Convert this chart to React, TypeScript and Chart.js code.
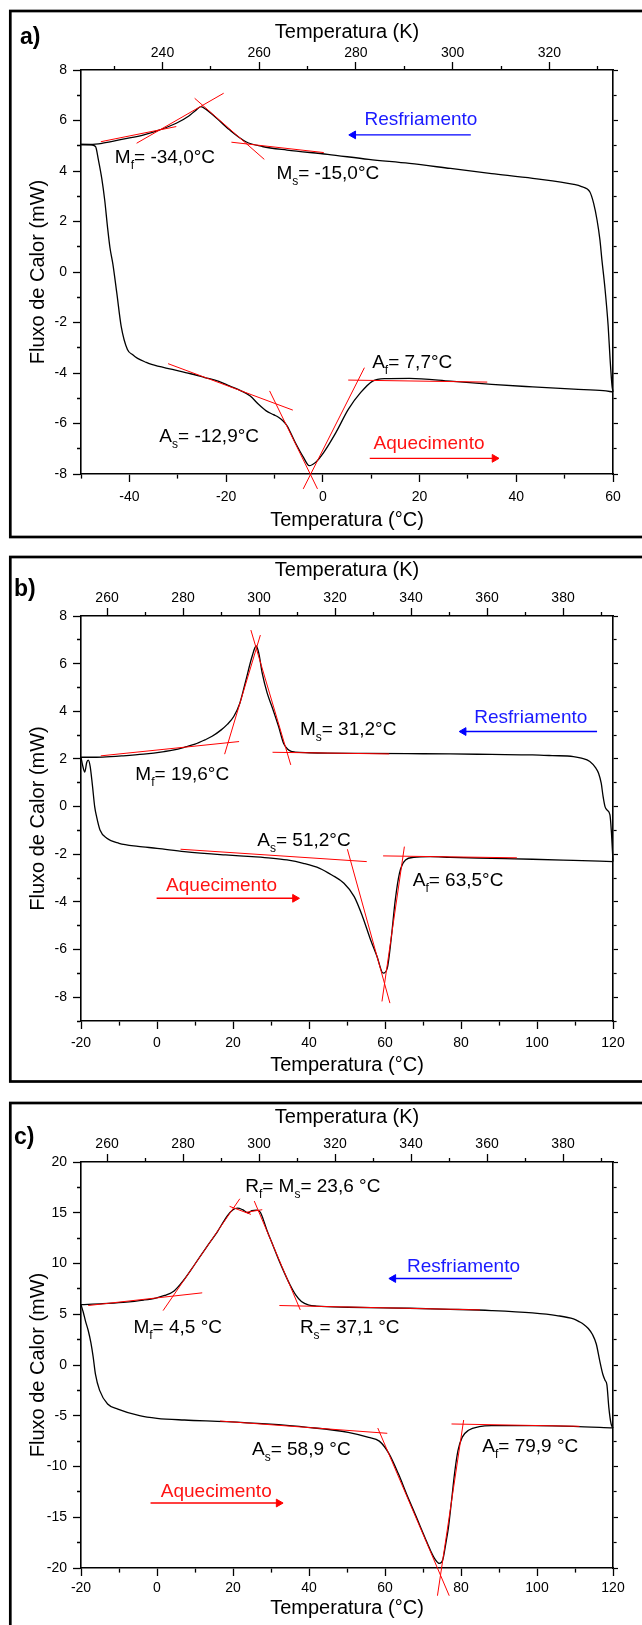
import React, { useEffect, useRef } from "react";
import { Chart, registerables } from "chart.js";

Chart.register(...registerables);

const FONT = "'Liberation Sans', Arial, Helvetica, sans-serif";
const K0 = 273.15;
const BLACK = "#000000";
const RED = "#ff0000";
const BLUE = "#0000ff";
const TEXT_COLORS: Record<string, string> = { k: "#000000", r: "#ff1414", b: "#1a1aff" };

// ================= a) =================
const aCoolT = [60, 59.8, 59.4, 59.0, 58.3, 57.7, 57.3, 56.7, 56.0, 55.2, 53.5, 51.9, 43.4, 34.9, 26.4, 17.9, 9.5, 1.0, -7.4, -12.5, -15.9, -19.3, -22.7, -24.2, -25.2, -26.3, -27.7, -30.3, -33.7, -37.0, -41.3, -45.5, -48.0, -50];
const aCoolQ = [-4.75, -4.51, -3.46, -2.14, -0.57, 0.49, 1.27, 2.06, 2.72, 3.18, 3.38, 3.47, 3.71, 3.9, 4.1, 4.3, 4.46, 4.66, 4.83, 4.97, 5.16, 5.63, 6.22, 6.45, 6.55, 6.4, 6.18, 5.89, 5.63, 5.43, 5.26, 5.1, 5.05, 5.05];
const aHeatT = [-50, -48.0, -47.0, -46.4, -45.7, -45.1, -44.5, -44.0, -43.4, -42.6, -41.7, -40.4, -39.3, -38.3, -36.5, -35.4, -31.1, -27.5, -24.4, -21.5, -19.3, -17.0, -15.0, -13.3, -11.7, -10.2, -9.1, -8.2, -7.4, -5.7, -4.0, -2.8, -1.5, 0.2, 2.7, 5.3, 7.8, 10.3, 12.9, 17.9, 26.4, 34.9, 43.4, 51.9, 58.0, 60];
const aHeatQ = [5.05, 5.04, 4.97, 4.44, 3.7, 2.85, 1.75, 0.95, 0.3, -0.83, -2.14, -3.07, -3.28, -3.42, -3.58, -3.66, -3.86, -4.02, -4.18, -4.33, -4.51, -4.7, -4.91, -5.24, -5.5, -5.65, -5.76, -5.9, -6.09, -6.75, -7.34, -7.67, -7.54, -7.14, -6.36, -5.43, -4.78, -4.32, -4.22, -4.21, -4.32, -4.45, -4.55, -4.64, -4.7, -4.75];
const aTanT = [[-45.9, -30.3], [-38.5, -20.5], [-26.5, -12.1], [-18.9, 0.2], [-32.0, -6.2], [-11.0, -1.1], [-4.05, 8.6], [5.25, 34.0]];
const aTanQ = [[5.16, 5.76], [5.1, 7.08], [6.88, 4.46], [5.14, 4.73], [-3.63, -5.47], [-4.71, -8.59], [-8.59, -3.79], [-4.28, -4.36]];
const aArrowT = [[30.6, 6.3], [9.7, 35.5]];
const aArrowQ = [[5.43, 5.43], [-7.38, -7.38]];
const aArrowColor = ["b", "r"];
const aLabelText = ["M_f= -34,0°C", "M_s= -15,0°C", "Resfriamento", "A_f= 7,7°C", "A_s= -12,9°C", "Aquecimento"];
const aLabelT = [-43.0, -9.6, 8.6, 10.2, -33.8, 10.5];
const aLabelQ = [4.54, 3.88, 6.02, -3.59, -6.53, -6.79];
const aLabelColor = ["k", "k", "b", "k", "k", "r"];
const aXTicks = [-50, -40, -30, -20, -10, 0, 10, 20, 30, 40, 50, 60];
const aKTicks = [230, 240, 250, 260, 270, 280, 290, 300, 310, 320, 330];
const aYTicks = [-8, -7, -6, -5, -4, -3, -2, -1, 0, 1, 2, 3, 4, 5, 6, 7, 8];

// ================= b) =================
const bCoolT = [120, 119.6, 119.2, 118.4, 117.9, 117.4, 116.9, 116.2, 115.5, 113.9, 111.7, 109.6, 104, 98.8, 88, 77.2, 66, 55, 45, 40, 36.3, 35.3, 34.4, 33.3, 32.0, 30.4, 29.0, 27.7, 26.8, 26.1, 25.0, 23.4, 21.8, 20.2, 18.5, 16.9, 14.5, 12.6, 10, 7.2, 4.5, 1.9, -3.5, -8.9, -14.3, -20];
const bCoolQ = [-2.31, -1.12, -0.35, -0.14, 0.0, 0.42, 0.98, 1.4, 1.61, 1.89, 2.03, 2.1, 2.14, 2.17, 2.19, 2.21, 2.22, 2.23, 2.24, 2.26, 2.29, 2.32, 2.41, 2.66, 3.36, 4.13, 4.76, 5.59, 6.43, 6.74, 6.29, 5.31, 4.34, 3.78, 3.45, 3.22, 2.95, 2.8, 2.62, 2.49, 2.38, 2.31, 2.2, 2.13, 2.08, 2.07];
const bHeatT = [-20, -19.6, -19.0, -18.5, -18.1, -17.6, -17.0, -16.4, -15.9, -15.0, -13.2, -10, -5, 0, 7.2, 18, 25, 30, 34.2, 38.5, 42.8, 46.0, 49.2, 51.9, 54.1, 56.2, 57.9, 59.5, 60.6, 61.6, 62.7, 63.8, 65.4, 67.6, 71.9, 77.2, 88, 98.8, 109.6, 120];
const bHeatQ = [2.07, 1.75, 1.45, 1.85, 1.95, 1.7, 0.9, 0.0, -0.42, -0.98, -1.33, -1.54, -1.67, -1.75, -1.89, -2.03, -2.1, -2.16, -2.24, -2.38, -2.59, -2.87, -3.22, -3.78, -4.62, -5.59, -6.29, -6.99, -6.78, -5.59, -3.92, -2.8, -2.24, -2.13, -2.1, -2.13, -2.17, -2.21, -2.26, -2.31];
const bTanT = [[-14.8, 21.6], [17.8, 27.2], [24.7, 35.2], [30.4, 61.1], [6.2, 55.2], [50.1, 61.3], [59.2, 65.1], [59.5, 94.7]];
const bTanQ = [[2.13, 2.73], [2.2, 7.2], [7.41, 1.75], [2.28, 2.21], [-1.79, -2.31], [-1.79, -8.25], [-8.18, -1.68], [-2.07, -2.15]];
const bArrowT = [[115.8, 80.7], [-0.1, 36.3]];
const bArrowQ = [[3.15, 3.15], [-3.85, -3.85]];
const bArrowColor = ["b", "r"];
const bLabelText = ["M_s= 31,2°C", "M_f= 19,6°C", "Resfriamento", "A_s= 51,2°C", "A_f= 63,5°C", "Aquecimento"];
const bLabelT = [37.6, -5.7, 83.5, 26.4, 67.3, 2.4];
const bLabelQ = [3.22, 1.33, 3.71, -1.43, -3.12, -3.31];
const bLabelColor = ["k", "k", "b", "k", "k", "r"];
const bXTicks = [-20, -10, 0, 10, 20, 30, 40, 50, 60, 70, 80, 90, 100, 110, 120];
const bKTicks = [260, 270, 280, 290, 300, 310, 320, 330, 340, 350, 360, 370, 380, 390];
const bYTicks = [-9, -8, -7, -6, -5, -4, -3, -2, -1, 0, 1, 2, 3, 4, 5, 6, 7, 8];

// ================= c) =================
const cCoolT = [120, 119.5, 118.9, 118.4, 117.9, 117.3, 116.5, 115.6, 114.6, 113.5, 112.3, 111.2, 109.6, 105.2, 98.8, 88, 77.2, 66.5, 50.3, 42, 40, 38, 36.5, 35, 33.5, 32, 30.5, 29, 28, 27.2, 26.2, 25, 23.9, 22.5, 21.2, 20.0, 18.5, 16, 13, 10, 7, 4.5, 2.0, -0.3, -3.5, -8.9, -14.3, -20];
const cCoolQ = [-6.2, -5.81, -4.17, -1.95, -1.5, -0.89, 0.43, 2.07, 3.0, 3.6, 4.0, 4.25, 4.54, 4.87, 5.13, 5.36, 5.49, 5.59, 5.69, 5.8, 5.9, 6.25, 6.9, 7.9, 9.1, 10.4, 11.8, 13.2, 14.3, 15.05, 15.25, 15.2, 15.0, 15.3, 15.45, 15.3, 14.7, 13.2, 11.6, 9.95, 8.35, 7.3, 6.85, 6.6, 6.4, 6.18, 6.04, 5.95];
const cHeatT = [-20, -19.4, -18.8, -18.1, -17.4, -16.8, -16.2, -15.1, -13.0, -10.3, -4.6, 0, 7.2, 18, 28.8, 39.6, 50.3, 55.7, 58.5, 61, 63.5, 66, 68.5, 70.5, 72, 73.2, 74.3, 75.2, 76.0, 76.7, 77.5, 78.3, 79.2, 80.3, 82.1, 84.8, 88, 98.8, 109.6, 120];
const cHeatQ = [5.95, 5.2, 4.3, 3.4, 2.2, 0.8, -0.9, -2.5, -3.84, -4.34, -4.99, -5.25, -5.42, -5.58, -5.81, -6.14, -6.63, -7.13, -7.5, -8.7, -10.7, -13.0, -15.2, -17.0, -18.3, -19.15, -19.55, -19.2, -17.6, -16.0, -13.4, -10.7, -8.44, -7.13, -6.4, -6.08, -5.98, -5.98, -6.04, -6.2];
const cTanT = [[-18.1, 11.9], [1.6, 21.8], [19.1, 24.7], [23.2, 27.7], [25.6, 37.7], [32.2, 85.0], [16.6, 60.6], [58.1, 76.9], [73.8, 80.7], [77.5, 111.2]];
const cTanQ = [[5.86, 7.11], [5.36, 16.38], [15.63, 14.84], [15.03, 15.3], [16.15, 5.43], [5.86, 5.43], [-5.52, -6.73], [-6.21, -22.73], [-22.73, -5.42], [-5.81, -6.04]];
const cArrowT = [[93.4, 62.2], [-1.7, 32.0]];
const cArrowQ = [[8.52, 8.52], [-13.6, -13.6]];
const cArrowColor = ["b", "r"];
const cLabelText = ["R_f= M_s= 23,6 °C", "M_f= 4,5 °C", "R_s= 37,1 °C", "Resfriamento", "A_s= 58,9 °C", "A_f= 79,9 °C", "Aquecimento"];
const cLabelT = [23.2, -6.2, 37.6, 65.8, 25.0, 85.6, 1.0];
const cLabelQ = [17.53, 3.65, 3.65, 9.7, -8.37, -8.01, -12.45];
const cLabelColor = ["k", "k", "k", "b", "k", "k", "r"];
const cXTicks = [-20, -10, 0, 10, 20, 30, 40, 50, 60, 70, 80, 90, 100, 110, 120];
const cKTicks = [260, 270, 280, 290, 300, 310, 320, 330, 340, 350, 360, 370, 380, 390];
const cYTicks = [-20, -17.5, -15, -12.5, -10, -7.5, -5, -2.5, 0, 2.5, 5, 7.5, 10, 12.5, 15, 17.5, 20];

const LINE_COLORS: Record<string, string> = { b: BLUE, r: RED };

type PanelDef = {
  letter: string; letterX: number; letterY: number;
  top: number; height: number; plotTop: number; plotBottom: number;
  frameTop: number; frameBottom: number;
  xMin: number; xMax: number; xTicks: number[]; xLabelStep: number;
  kTicks: number[];
  yMin: number; yMax: number; yTicks: number[]; yLabelStep: number;
  curves: number[][][];
  tanT: number[][]; tanQ: number[][];
  arrowT: number[][]; arrowQ: number[][]; arrowColor: string[];
  labelText: string[]; labelT: number[]; labelQ: number[]; labelColor: string[];
  kTitlePad: number; kTickPad: number; cTickPad: number; cTitlePad: number;
};

const PLOT_LEFT = 81;
const PLOT_RIGHT = 613;
const W = 642;

const PANELS: PanelDef[] = [
  {
    letter: "a", letterX: 20, letterY: 38, top: 0, height: 548, plotTop: 70, plotBottom: 474, frameTop: 11, frameBottom: 537,
    xMin: -50, xMax: 60, xTicks: aXTicks, xLabelStep: 20, kTicks: aKTicks,
    yMin: -8, yMax: 8, yTicks: aYTicks, yLabelStep: 2,
    curves: [[aCoolT, aCoolQ], [aHeatT, aHeatQ]], tanT: aTanT, tanQ: aTanQ,
    arrowT: aArrowT, arrowQ: aArrowQ, arrowColor: aArrowColor,
    labelText: aLabelText, labelT: aLabelT, labelQ: aLabelQ, labelColor: aLabelColor,
    kTitlePad: 20, kTickPad: 0, cTickPad: 6.6, cTitlePad: 16,
  },
  {
    letter: "b", letterX: 14, letterY: 42, top: 548, height: 545, plotTop: 68, plotBottom: 473, frameTop: 9, frameBottom: 533.5,
    xMin: -20, xMax: 120, xTicks: bXTicks, xLabelStep: 20, kTicks: bKTicks,
    yMin: -9, yMax: 8, yTicks: bYTicks, yLabelStep: 2,
    curves: [[bCoolT, bCoolQ], [bHeatT, bHeatQ]], tanT: bTanT, tanQ: bTanQ,
    arrowT: bArrowT, arrowQ: bArrowQ, arrowColor: bArrowColor,
    labelText: bLabelText, labelT: bLabelT, labelQ: bLabelQ, labelColor: bLabelColor,
    kTitlePad: 10, kTickPad: 1.6, cTickPad: 5.6, cTitlePad: 16,
  },
  {
    letter: "c", letterX: 14, letterY: 45, top: 1093, height: 532, plotTop: 69, plotBottom: 475, frameTop: 10, frameBottom: 700,
    xMin: -20, xMax: 120, xTicks: cXTicks, xLabelStep: 20, kTicks: cKTicks,
    yMin: -20, yMax: 20, yTicks: cYTicks, yLabelStep: 5,
    curves: [[cCoolT, cCoolQ], [cHeatT, cHeatQ]], tanT: cTanT, tanQ: cTanQ,
    arrowT: cArrowT, arrowQ: cArrowQ, arrowColor: cArrowColor,
    labelText: cLabelText, labelT: cLabelT, labelQ: cLabelQ, labelColor: cLabelColor,
    kTitlePad: 12, kTickPad: 1.6, cTickPad: 3.6, cTitlePad: 5,
  },
];

const isMult = (v: number, s: number) => Math.abs(v / s - Math.round(v / s)) < 1e-6;

// minor ticks are drawn shorter using a dash pattern on the tick mark
function tickDash(labelStep: number, outerFirst: boolean, minorLen: number, tl: number) {
  return (ctx: any) => {
    const v = ctx && ctx.tick ? ctx.tick.value : 0;
    if (isMult(v, labelStep)) return [];
    return outerFirst ? [0, tl - minorLen, 40, 0] : [minorLen, 40];
  };
}

function drawRich(ctx: CanvasRenderingContext2D, text: string, x: number, y: number, color: string) {
  const parts: [string, boolean][] = [];
  let buf = "";
  for (let i = 0; i < text.length; i++) {
    if (text[i] === "_") {
      if (buf) parts.push([buf, false]);
      buf = "";
      parts.push([text[i + 1], true]);
      i++;
    } else buf += text[i];
  }
  if (buf) parts.push([buf, false]);
  ctx.fillStyle = color;
  ctx.textBaseline = "middle";
  ctx.textAlign = "left";
  let cx = x;
  for (const [s, sub] of parts) {
    ctx.font = sub ? `12px ${FONT}` : `19px ${FONT}`;
    ctx.fillText(s, cx, sub ? y + 8 : y);
    cx += ctx.measureText(s).width;
  }
}

function decorPlugin(p: PanelDef) {
  return {
    id: "decor_" + p.letter,
    afterDraw(chart: any) {
      const ctx: CanvasRenderingContext2D = chart.ctx;
      const xs = chart.scales.x;
      const ys = chart.scales.y;
      ctx.save();
      p.labelText.forEach((t, i) => {
        drawRich(ctx, t, xs.getPixelForValue(p.labelT[i]), ys.getPixelForValue(p.labelQ[i]), TEXT_COLORS[p.labelColor[i]]);
      });
      ctx.font = `bold 23px ${FONT}`;
      ctx.fillStyle = BLACK;
      ctx.textBaseline = "middle";
      ctx.textAlign = "left";
      ctx.fillText(p.letter + ")", p.letterX, p.letterY);
      ctx.lineWidth = 2.7;
      ctx.strokeStyle = BLACK;
      ctx.strokeRect(10.3, p.frameTop, 800, p.frameBottom - p.frameTop);
      ctx.restore();
    },
  };
}

function makeConfig(p: PanelDef): any {
  const datasets: any[] = [];
  p.curves.forEach(([t, q]) => {
    datasets.push({
      data: t.map((x, i) => ({ x, y: q[i] })),
      borderColor: BLACK, borderWidth: 1.3, pointRadius: 0, pointHoverRadius: 0, fill: false,
      cubicInterpolationMode: "monotone", clip: false, order: 3,
    });
  });
  p.tanT.forEach((t, i) => {
    datasets.push({
      data: t.map((x, j) => ({ x, y: p.tanQ[i][j] })),
      borderColor: RED, borderWidth: 1, pointRadius: 0, pointHoverRadius: 0, fill: false, tension: 0, clip: false, order: 2,
    });
  });
  p.arrowT.forEach((t, i) => {
    const col = LINE_COLORS[p.arrowColor[i]];
    datasets.push({
      data: t.map((x, j) => ({ x, y: p.arrowQ[i][j] })),
      borderColor: col, backgroundColor: col, borderWidth: 1.4,
      pointRadius: [0, 4.5], pointHoverRadius: 0, pointStyle: "triangle",
      pointRotation: t[1] > t[0] ? 90 : -90,
      pointBackgroundColor: col, pointBorderColor: col, pointBorderWidth: 1,
      fill: false, tension: 0, clip: false, order: 1,
    });
  });

  const tickFont = { family: FONT, size: 14 };
  const titleFont = { family: FONT, size: 20 };
  const border = { display: true, color: BLACK, width: 1.6 };

  return {
    type: "line",
    data: { datasets },
    plugins: [decorPlugin(p)],
    options: {
      animation: false,
      responsive: false,
      maintainAspectRatio: false,
      devicePixelRatio: 1,
      events: [],
      layout: { padding: 0 },
      plugins: { legend: { display: false }, tooltip: { enabled: false }, title: { display: false } },
      scales: {
        x: {
          type: "linear", position: "bottom", min: p.xMin, max: p.xMax,
          afterBuildTicks: (s: any) => { s.ticks = p.xTicks.map((v) => ({ value: v })); },
          afterFit: (s: any) => { s.height = p.height - p.plotBottom; },
          ticks: {
            autoSkip: false, maxRotation: 0, minRotation: 0, padding: p.cTickPad, color: BLACK, font: tickFont,
            callback: (v: number) => (isMult(v, p.xLabelStep) ? String(v) : ""),
          },
          grid: { drawOnChartArea: false, drawTicks: true, tickLength: 8, tickWidth: 1.3, tickColor: BLACK, tickBorderDash: tickDash(p.xLabelStep, false, 4, 8) },
          border,
          title: { display: true, text: "Temperatura (°C)", color: BLACK, font: titleFont, padding: { top: 0, bottom: p.cTitlePad } },
        },
        x2: {
          type: "linear", position: "top", min: p.xMin + K0, max: p.xMax + K0,
          afterBuildTicks: (s: any) => { s.ticks = p.kTicks.map((v) => ({ value: v })); },
          afterFit: (s: any) => { s.height = p.plotTop; },
          ticks: {
            autoSkip: false, maxRotation: 0, minRotation: 0, padding: p.kTickPad, color: BLACK, font: tickFont,
            callback: (v: number) => (isMult(v, 20) ? String(v) : ""),
          },
          grid: { drawOnChartArea: false, drawTicks: true, tickLength: 8, tickWidth: 1.3, tickColor: BLACK, tickBorderDash: tickDash(20, true, 4, 8) },
          border,
          title: { display: true, text: "Temperatura (K)", color: BLACK, font: titleFont, padding: { top: p.kTitlePad, bottom: 0 } },
        },
        y: {
          type: "linear", position: "left", min: p.yMin, max: p.yMax,
          afterBuildTicks: (s: any) => { s.ticks = p.yTicks.map((v) => ({ value: v })); },
          afterFit: (s: any) => { s.width = PLOT_LEFT; },
          ticks: {
            autoSkip: false, padding: 6, color: BLACK, font: tickFont,
            callback: (v: number) => (isMult(v, p.yLabelStep) ? String(v) : ""),
          },
          grid: { drawOnChartArea: false, drawTicks: true, tickLength: 8, tickWidth: 1.3, tickColor: BLACK, tickBorderDash: tickDash(p.yLabelStep, true, 4, 8) },
          border,
          title: { display: true, text: "Fluxo de Calor (mW)", color: BLACK, font: titleFont, padding: { top: 26, bottom: 0 } },
        },
        y2: {
          type: "linear", position: "right", min: p.yMin, max: p.yMax,
          afterBuildTicks: (s: any) => { s.ticks = p.yTicks.map((v) => ({ value: v })); },
          afterFit: (s: any) => { s.width = W - PLOT_RIGHT; },
          ticks: { display: false },
          grid: { drawOnChartArea: false, drawTicks: true, tickLength: 5, tickWidth: 1.2, tickColor: BLACK, tickBorderDash: tickDash(p.yLabelStep, false, 3, 5) },
          border,
        },
      },
    },
  };
}

function Panel({ p }: { p: PanelDef }) {
  const ref = useRef<HTMLCanvasElement | null>(null);
  useEffect(() => {
    const c = ref.current;
    if (!c) return;
    const chart = new Chart(c, makeConfig(p));
    return () => chart.destroy();
  }, [p]);
  return (
    <canvas
      ref={ref}
      width={W}
      height={p.height}
      style={{ position: "absolute", left: 0, top: p.top, width: W, height: p.height, display: "block" }}
    />
  );
}

export default function App() {
  return (
    <div style={{ position: "fixed", left: 0, top: 0, width: W, height: 1625, overflow: "hidden", background: "#ffffff" }}>
      {PANELS.map((p) => (
        <Panel key={p.letter} p={p} />
      ))}
    </div>
  );
}
